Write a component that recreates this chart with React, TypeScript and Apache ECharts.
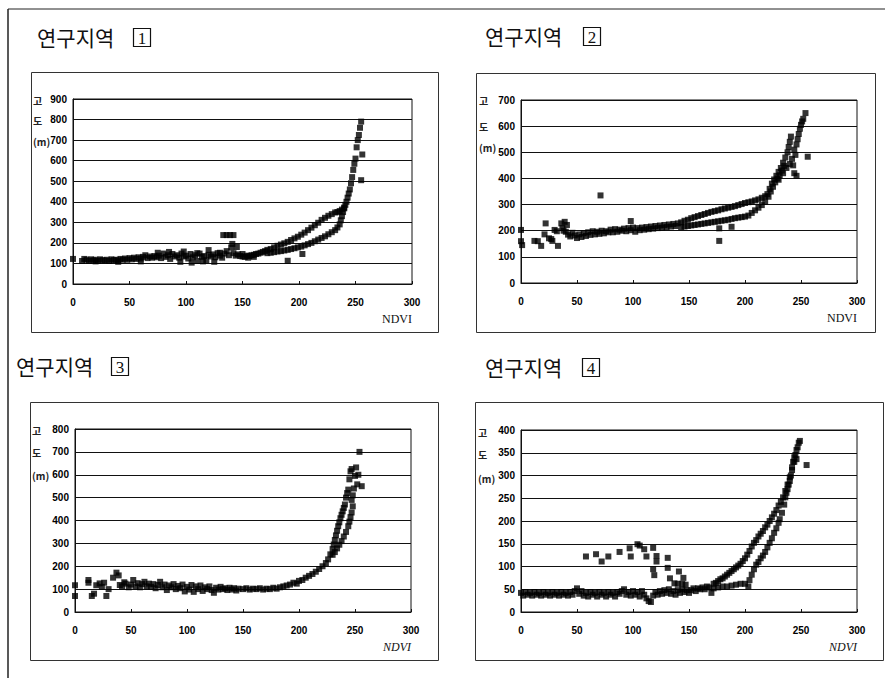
import { useEffect, useRef } from 'react';
import * as echarts from 'echarts';

// ---- data ----
const titleText = '연구지역';
const regionNumbers = ['1', '2', '3', '4'];
const yAxisNameParts = ['고', '도', '(m)'];
const xAxisName = 'NDVI';
const xMax = 300;
const xInterval = 50;
const yMaxes = [900, 700, 800, 400];
const yIntervals = [100, 100, 100, 50];

const region1: number[][] = [
  [0, 122], [8, 112], [10, 122], [12, 118], [14, 112], [16, 120], [18, 115], [20, 118], [22, 112], [24, 120],
  [26, 116], [28, 114], [30, 118], [32, 112], [34, 120], [36, 116], [38, 118], [40, 114], [42, 122], [44, 118],
  [46, 124], [48, 118], [50, 126], [52, 120], [54, 128], [56, 122], [58, 130], [60, 124], [62, 132], [64, 140],
  [66, 126], [68, 134], [70, 128], [72, 136], [74, 130], [76, 138], [78, 126], [80, 148], [82, 132], [84, 140],
  [86, 122], [88, 146], [90, 134], [92, 140], [94, 128], [96, 148], [98, 134], [100, 138], [102, 124], [104, 146],
  [106, 130], [108, 140], [110, 112], [112, 148], [114, 132], [116, 136], [118, 116], [120, 142], [122, 134], [124, 144],
  [126, 130], [128, 150], [130, 138], [132, 128], [134, 148], [136, 160], [138, 140], [140, 178], [142, 150], [144, 138],
  [146, 144], [148, 136], [150, 134], [152, 132], [154, 138], [156, 136], [158, 140], [160, 142], [162, 146], [164, 148],
  [166, 152], [168, 156], [170, 160],
  [95, 108], [105, 104], [115, 110], [125, 108], [60, 110], [40, 108], [20, 110], [85, 156], [75, 152], [98, 158],
  [120, 165], [145, 180], [141, 195], [110, 150], [130, 152], [150, 146], [155, 128], [160, 132],
  [172, 166], [175, 170], [178, 178], [181, 186], [184, 192], [187, 198], [190, 205], [193, 214], [196, 222], [199, 230],
  [202, 240], [205, 250], [208, 262], [211, 274], [214, 286], [217, 298], [220, 312], [223, 322], [226, 332], [229, 340],
  [232, 348], [234, 350], [236, 355], [238, 362], [240, 372], [241, 385],
  [172, 150], [175, 152], [178, 155], [181, 158], [184, 160], [187, 163], [190, 166], [193, 170], [196, 174], [199, 178],
  [202, 182], [205, 188], [208, 194], [211, 200], [214, 208], [217, 216], [220, 224], [223, 232], [226, 242], [229, 252],
  [232, 262], [234, 275], [236, 290], [237, 310], [238, 330], [239, 350], [240, 368],
  [242, 400], [243, 420], [244, 440], [245, 460], [246, 490], [247, 520], [248, 555], [249, 585], [250, 610],
  [251, 665], [252, 700], [253, 725], [254, 760], [255, 790], [256, 630], [255, 505],
  [133, 238], [136, 238], [139, 238], [142, 238], [190, 113], [203, 146],
];

const region2: number[][] = [
  [0, 203], [0, 160], [1, 145], [12, 161], [15, 160], [18, 142], [21, 186], [22, 228], [25, 171], [27, 168],
  [28, 161], [30, 203], [32, 198], [33, 142], [36, 228], [37, 210], [38, 200], [39, 234], [40, 196], [41, 222],
  [42, 185], [44, 178], [46, 192], [48, 182], [50, 172], [52, 186], [54, 176], [56, 190], [58, 180], [60, 194],
  [62, 184], [64, 198], [66, 186], [68, 196], [70, 188], [72, 200], [74, 190], [76, 198], [78, 194], [80, 204],
  [82, 194], [84, 206], [86, 196], [88, 204], [90, 200], [92, 208], [94, 198], [96, 210], [98, 202], [100, 212],
  [102, 196], [104, 210], [106, 202], [108, 212], [110, 204], [112, 214], [114, 206], [116, 216], [118, 208], [120, 218],
  [122, 210], [124, 220], [126, 212], [128, 222], [130, 214], [132, 224], [134, 216], [136, 226], [138, 218], [140, 228],
  [143, 232], [146, 238], [149, 242], [152, 248], [155, 252], [158, 256], [161, 260], [164, 264], [167, 268], [170, 272],
  [173, 275], [176, 278], [179, 282], [182, 285], [185, 288], [188, 291], [191, 294], [194, 298], [197, 302], [200, 306],
  [203, 309], [206, 312], [209, 316], [212, 320], [215, 326], [218, 332],
  [143, 214], [146, 216], [149, 218], [152, 220], [155, 222], [158, 224], [161, 226], [164, 228], [167, 230], [170, 232],
  [173, 234], [176, 236], [179, 238], [182, 240], [185, 242], [188, 245], [191, 248], [194, 250], [197, 252], [200, 254],
  [203, 258], [206, 268], [209, 278], [212, 288], [215, 298], [218, 310],
  [220, 340], [222, 360], [224, 380], [226, 396], [228, 410], [230, 425], [232, 440], [234, 460], [236, 480], [238, 500],
  [239, 520], [240, 540], [241, 560], [242, 475], [243, 450], [244, 510], [245, 490], [246, 530], [244, 420], [246, 410],
  [247, 550], [248, 570], [249, 590], [250, 605], [251, 618], [252, 628], [254, 650], [256, 483], [230, 395], [234, 420],
  [237, 440], [240, 455], [221, 330], [223, 350], [225, 368], [227, 385], [229, 400], [231, 412], [233, 430], [235, 448],
  [71, 335], [98, 237], [177, 161], [177, 209], [188, 215],
];

const region3: number[][] = [
  [0, 117], [0, 70], [12, 128], [12, 140], [15, 70], [17, 80], [19, 117], [22, 125], [24, 110], [26, 128],
  [28, 70], [30, 100], [34, 150], [37, 172], [39, 160], [40, 118], [44, 130],
  [42, 112], [45, 124], [48, 108], [50, 120], [52, 140], [54, 112], [56, 126], [58, 108], [60, 122], [62, 132],
  [64, 112], [66, 124], [68, 110], [70, 122], [72, 104], [74, 118], [76, 132], [78, 108], [80, 120], [82, 96],
  [84, 116], [86, 108], [88, 122], [90, 100], [92, 114], [94, 104], [96, 120], [98, 90], [100, 110], [102, 98],
  [104, 118], [106, 88], [108, 112], [110, 100], [112, 116], [114, 92], [116, 108], [118, 100], [120, 112], [122, 96],
  [124, 84], [126, 106], [128, 98], [130, 110], [132, 100], [134, 104], [136, 96], [138, 106], [140, 98], [142, 104],
  [144, 94], [146, 102],
  [150, 100], [153, 104], [156, 98], [159, 102], [162, 100], [165, 104], [168, 98], [171, 102], [174, 100], [177, 106],
  [180, 102], [183, 108], [186, 112], [189, 116], [192, 120], [195, 128], [198, 124], [200, 136], [203, 140], [206, 150],
  [209, 158], [212, 166], [215, 176], [218, 188], [221, 200], [224, 214], [226, 230],
  [228, 252], [230, 275], [231, 295], [232, 315], [233, 335], [234, 355], [235, 375], [236, 392], [237, 410], [238, 425],
  [239, 440], [240, 455], [241, 470], [242, 500], [243, 520], [244, 535], [245, 580], [246, 615], [247, 625], [250, 595],
  [251, 632], [252, 558], [253, 600], [256, 550], [254, 700], [249, 540],
  [230, 250], [232, 262], [234, 278], [236, 294], [238, 310], [240, 330], [242, 350], [244, 375], [245, 395], [246, 415],
  [247, 435], [248, 462], [248, 510], [247, 490],
];

const region4: number[][] = [
  [0, 42], [2, 36], [4, 44], [6, 38], [8, 42], [10, 36], [12, 44], [14, 38], [16, 42], [18, 36],
  [20, 44], [22, 38], [24, 42], [26, 36], [28, 44], [30, 38], [32, 42], [34, 36], [36, 44], [38, 38],
  [40, 42], [42, 36], [44, 44], [46, 38], [48, 46], [50, 52], [52, 40], [54, 46], [56, 36], [58, 42],
  [60, 34], [62, 44], [64, 38], [66, 42], [68, 34], [70, 44], [72, 38], [74, 42], [76, 34], [78, 44],
  [80, 38], [82, 42], [84, 34], [86, 44], [88, 40], [90, 46], [92, 50], [94, 38], [96, 44], [98, 36],
  [100, 46], [102, 38], [104, 44], [106, 34], [108, 46], [110, 38], [112, 30], [114, 24], [116, 22], [118, 36],
  [120, 44], [122, 38], [124, 46], [126, 40], [128, 48], [130, 42], [132, 50], [134, 40], [136, 46], [138, 38],
  [140, 48], [142, 42], [144, 50], [146, 44], [148, 48], [150, 42], [152, 48], [154, 52], [156, 46], [158, 52],
  [160, 50], [162, 54], [164, 50], [166, 56], [168, 54], [170, 42],
  [58, 122], [67, 127], [72, 111], [78, 122], [88, 132], [97, 140], [98, 122], [104, 149], [106, 146], [110, 138],
  [112, 122], [118, 141], [121, 123], [121, 111], [118, 94], [119, 81], [131, 119], [131, 97], [133, 74], [141, 89],
  [137, 63], [140, 62], [144, 62], [147, 60], [145, 75],
  [172, 62], [174, 64], [176, 68], [178, 72], [180, 74], [182, 78], [184, 82], [186, 86], [188, 90], [190, 94],
  [192, 98], [194, 102], [196, 106], [198, 112], [200, 118], [202, 126], [204, 134], [206, 144], [208, 152], [210, 158],
  [212, 166], [214, 172], [216, 178], [218, 186], [220, 192], [222, 200], [224, 208], [226, 216], [228, 224], [230, 234],
  [232, 242], [234, 252], [236, 266], [238, 280], [240, 296], [242, 312], [244, 330], [245, 345], [246, 356], [247, 362],
  [248, 372], [249, 376],
  [172, 52], [176, 54], [180, 56], [184, 56], [188, 58], [192, 60], [196, 62], [200, 62], [203, 56], [204, 70],
  [206, 82], [208, 94], [210, 104], [212, 110], [214, 118], [216, 124], [218, 132], [220, 142], [222, 152], [224, 162],
  [226, 174], [228, 184], [230, 196], [231, 204], [233, 218], [235, 236], [236, 252], [237, 262], [238, 270], [239, 280],
  [240, 288], [241, 300], [242, 318], [243, 330], [244, 340], [246, 336], [255, 323],
];

const regions = [region1, region2, region3, region4];

// ---- layout ----
const grids = [
  { left: 73, top: 99, width: 339, height: 185 },
  { left: 521, top: 100, width: 336, height: 183 },
  { left: 75, top: 429, width: 336, height: 183 },
  { left: 521, top: 430, width: 336, height: 182 },
];
const boxes = [
  { x: 31, y: 72, width: 407, height: 260 },
  { x: 476, y: 73, width: 399, height: 259 },
  { x: 30, y: 402, width: 408, height: 258 },
  { x: 475, y: 402, width: 408, height: 258 },
];
const titlePos = [
  { x: 37, y: 37, bx: 133 },
  { x: 485, y: 36, bx: 583 },
  { x: 16, y: 366, bx: 111 },
  { x: 485, y: 367, bx: 582 },
];
const unitPos = [
  { x: 33, ys: [100, 120, 141] },
  { x: 479, ys: [100, 126, 147] },
  { x: 32, ys: [430, 452, 475] },
  { x: 478, ys: [432, 454, 478] },
];
const ndviItalic = [false, false, true, true];

export default function App() {
  const ref = useRef<HTMLDivElement>(null);
  useEffect(() => {
    if (!ref.current) return;
    const chart = echarts.init(ref.current, null, { renderer: 'svg' });
    const labelFont = {
      fontFamily: '"Liberation Sans", Arial, sans-serif',
      fontWeight: 'bold' as const,
      fontSize: 10,
      color: '#000',
    };
    const graphic: any[] = [];
    graphic.push({ type: 'line', shape: { x1: 8, y1: 9, x2: 885, y2: 9 }, style: { stroke: '#222', lineWidth: 1 } });
    graphic.push({ type: 'line', shape: { x1: 8, y1: 9, x2: 8, y2: 678 }, style: { stroke: '#222', lineWidth: 1.5 } });
    boxes.forEach((b) => {
      graphic.push({
        type: 'rect',
        shape: { x: b.x + 0.5, y: b.y + 0.5, width: b.width, height: b.height },
        style: { fill: 'none', stroke: '#333', lineWidth: 1 },
        z: -1,
      });
    });
    titlePos.forEach((p, i) => {
      graphic.push({
        type: 'text',
        x: p.x,
        y: p.y,
        style: {
          text: titleText,
          fontSize: 21,
          fontFamily: '"Noto Sans CJK KR", sans-serif',
          fill: '#111',
          verticalAlign: 'middle',
        },
      });
      graphic.push({
        type: 'rect',
        shape: { x: p.bx + 0.5, y: p.y - 9 + 0.5, width: 17, height: 18 },
        style: { fill: 'none', stroke: '#111', lineWidth: 1.2 },
      });
      graphic.push({
        type: 'text',
        x: p.bx + 9,
        y: p.y + 1,
        style: {
          text: regionNumbers[i],
          fontSize: 17,
          fontFamily: '"Liberation Serif", serif',
          fill: '#111',
          align: 'center',
          verticalAlign: 'middle',
        },
      });
    });
    unitPos.forEach((u) => {
      yAxisNameParts.forEach((t, k) => {
        graphic.push({
          type: 'text',
          x: u.x,
          y: u.ys[k],
          z: 10,
          style: {
            text: t,
            fontSize: 10,
            fontWeight: 'bold',
            fontFamily: '"Noto Sans CJK KR", sans-serif',
            fill: '#222',
            verticalAlign: 'middle',
            backgroundColor: k === 2 ? '#fff' : undefined,
          },
        });
      });
    });
    grids.forEach((g, i) => {
      graphic.push({
        type: 'text',
        x: g.left + g.width,
        y: g.top + g.height + 35,
        style: {
          text: xAxisName,
          fontSize: 12,
          fontFamily: '"Liberation Serif", "Times New Roman", serif',
          fontStyle: ndviItalic[i] ? 'italic' : 'normal',
          fill: '#111',
          align: 'right',
          verticalAlign: 'middle',
        },
      });
    });

    const option: any = {
      animation: false,
      backgroundColor: '#fff',
      grid: grids.map((g) => ({
        ...g,
        show: true,
        backgroundColor: '#fff',
        borderColor: '#111',
        borderWidth: 1,
        containLabel: false,
      })),
      xAxis: grids.map((_, i) => ({
        type: 'value',
        gridIndex: i,
        min: 0,
        max: xMax,
        interval: xInterval,
        axisLine: { show: true, onZero: false, lineStyle: { color: '#111', width: 1 } },
        axisTick: { show: true, inside: true, length: 3, lineStyle: { color: '#111' } },
        axisLabel: { ...labelFont, margin: 13 },
        splitLine: { show: false },
      })),
      yAxis: grids.map((_, i) => ({
        type: 'value',
        gridIndex: i,
        min: 0,
        max: yMaxes[i],
        interval: yIntervals[i],
        axisLine: { show: true, lineStyle: { color: '#111', width: 1 } },
        axisTick: { show: false },
        axisLabel: { ...labelFont, margin: 6 },
        splitLine: { show: true, lineStyle: { color: '#111', width: 1, type: 'solid' } },
      })),
      series: regions.map((data, i) => ({
        type: 'scatter',
        xAxisIndex: i,
        yAxisIndex: i,
        data,
        symbol: 'rect',
        symbolSize: 6,
        itemStyle: { color: '#000' },
        silent: true,
      })),
      graphic,
    };
    chart.setOption(option);
    return () => chart.dispose();
  }, []);
  return (
    <div
      ref={ref}
      style={{ position: 'absolute', left: 0, top: 0, width: 885, height: 678, background: '#fff' }}
    />
  );
}
